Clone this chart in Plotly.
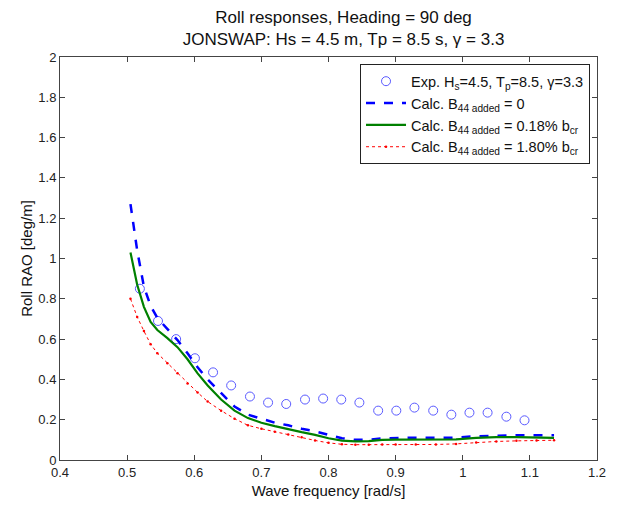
import plotly.graph_objects as go

# ---------------- data ----------------
exp_freq = [0.519, 0.546, 0.573, 0.601, 0.628, 0.655, 0.683, 0.710, 0.737, 0.765, 0.792,
            0.819, 0.846, 0.874, 0.901, 0.928, 0.956, 0.983, 1.010, 1.037, 1.065, 1.092]
exp_rao = [0.85, 0.69, 0.60, 0.505, 0.435, 0.37, 0.315, 0.285, 0.278, 0.30, 0.305,
           0.30, 0.285, 0.245, 0.245, 0.26, 0.245, 0.225, 0.235, 0.235, 0.215, 0.197]

calc_freq = [0.505, 0.515, 0.525, 0.535, 0.545, 0.56, 0.575, 0.59, 0.605, 0.62, 0.64,
             0.66, 0.68, 0.70, 0.72, 0.74, 0.76, 0.78, 0.80, 0.82, 0.84, 0.86, 0.88,
             0.90, 0.93, 0.96, 0.99, 1.02, 1.05, 1.08, 1.11, 1.136]
calc_b0 = [1.27, 1.04, 0.86, 0.765, 0.705, 0.65, 0.595, 0.53, 0.46, 0.40, 0.33,
           0.265, 0.225, 0.205, 0.185, 0.172, 0.155, 0.142, 0.125, 0.108, 0.100, 0.100, 0.107,
           0.110, 0.111, 0.110, 0.111, 0.118, 0.122, 0.123, 0.123, 0.123]
calc_b018 = [1.03, 0.87, 0.76, 0.685, 0.645, 0.605, 0.56, 0.50, 0.43, 0.37, 0.30,
             0.245, 0.208, 0.185, 0.168, 0.152, 0.138, 0.125, 0.108, 0.096, 0.092, 0.094, 0.100,
             0.101, 0.101, 0.100, 0.102, 0.110, 0.114, 0.114, 0.112, 0.110]
calc_b180 = [0.80, 0.71, 0.64, 0.575, 0.53, 0.48, 0.43, 0.38, 0.335, 0.29, 0.245,
             0.205, 0.172, 0.155, 0.140, 0.126, 0.113, 0.097, 0.085, 0.078, 0.076, 0.076, 0.077,
             0.077, 0.077, 0.077, 0.080, 0.087, 0.092, 0.095, 0.097, 0.098]

x_ticks = [0.4, 0.5, 0.6, 0.7, 0.8, 0.9, 1.0, 1.1, 1.2]
x_tick_labels = ["0.4", "0.5", "0.6", "0.7", "0.8", "0.9", "1", "1.1", "1.2"]
y_ticks = [0, 0.2, 0.4, 0.6, 0.8, 1.0, 1.2, 1.4, 1.6, 1.8, 2.0]
y_tick_labels = ["0", "0.2", "0.4", "0.6", "0.8", "1", "1.2", "1.4", "1.6", "1.8", "2"]

names = ["Exp. H<sub>s</sub>=4.5, T<sub>p</sub>=8.5, γ=3.3",
         "Calc. B<sub>44 added</sub> = 0",
         "Calc. B<sub>44 added</sub> = 0.18% b<sub>cr</sub>",
         "Calc. B<sub>44 added</sub> = 1.80% b<sub>cr</sub>"]

FONT = "Liberation Sans, Arial, sans-serif"

fig = go.Figure()
fig.add_trace(go.Scatter(x=exp_freq, y=exp_rao, mode="markers", name=names[0],
                         marker=dict(symbol="circle-open", size=9, color="rgb(90,90,255)",
                                     line=dict(width=1, color="rgb(90,90,255)"))))
fig.add_trace(go.Scatter(x=calc_freq, y=calc_b0, mode="lines", name=names[1],
                         line=dict(color="rgb(0,0,255)", width=2.5, dash="dash")))
fig.add_trace(go.Scatter(x=calc_freq, y=calc_b018, mode="lines", name=names[2],
                         line=dict(color="rgb(0,128,0)", width=2.2)))
fig.add_trace(go.Scatter(x=calc_freq, y=calc_b180, mode="lines+markers", name=names[3],
                         line=dict(color="rgb(255,0,0)", width=1, dash="dot"),
                         marker=dict(symbol="circle", size=2.5, color="rgb(255,0,0)")))

axis_common = dict(showgrid=False, zeroline=False, showline=True, linecolor="#444",
                   linewidth=1, mirror="ticks", ticks="inside", ticklen=5, tickcolor="#444",
                   tickfont=dict(family=FONT, size=13, color="#222"))

fig.update_layout(
    width=621, height=508,
    margin=dict(l=60, r=24, t=57, b=41),
    paper_bgcolor="white", plot_bgcolor="white",
    font=dict(family=FONT, color="#111"),
    title=dict(text="Roll responses, Heading = 90 deg<br>JONSWAP: Hs = 4.5 m, Tp = 8.5 s, γ = 3.3",
               x=0.528, xanchor="center", xref="paper", yref="container",
               y=1 - 23 / 508, yanchor="middle",
               font=dict(family=FONT, size=17, color="#111")),
    xaxis=dict(range=[0.4, 1.2], tickvals=x_ticks, ticktext=x_tick_labels,
               title=dict(text="Wave frequency [rad/s]", font=dict(family=FONT, size=15), standoff=6),
               **axis_common),
    yaxis=dict(range=[0, 2], tickvals=y_ticks, ticktext=y_tick_labels,
               title=dict(text="Roll RAO [deg/m]", font=dict(family=FONT, size=15), standoff=2),
               **axis_common),
    legend=dict(x=0.987, y=0.982, xanchor="right", yanchor="top",
                bgcolor="white", bordercolor="#222", borderwidth=1,
                font=dict(family=FONT, size=14.5, color="#111"),
                tracegroupgap=0, itemwidth=40),
    showlegend=True,
)

fig.write_html("out.html")
